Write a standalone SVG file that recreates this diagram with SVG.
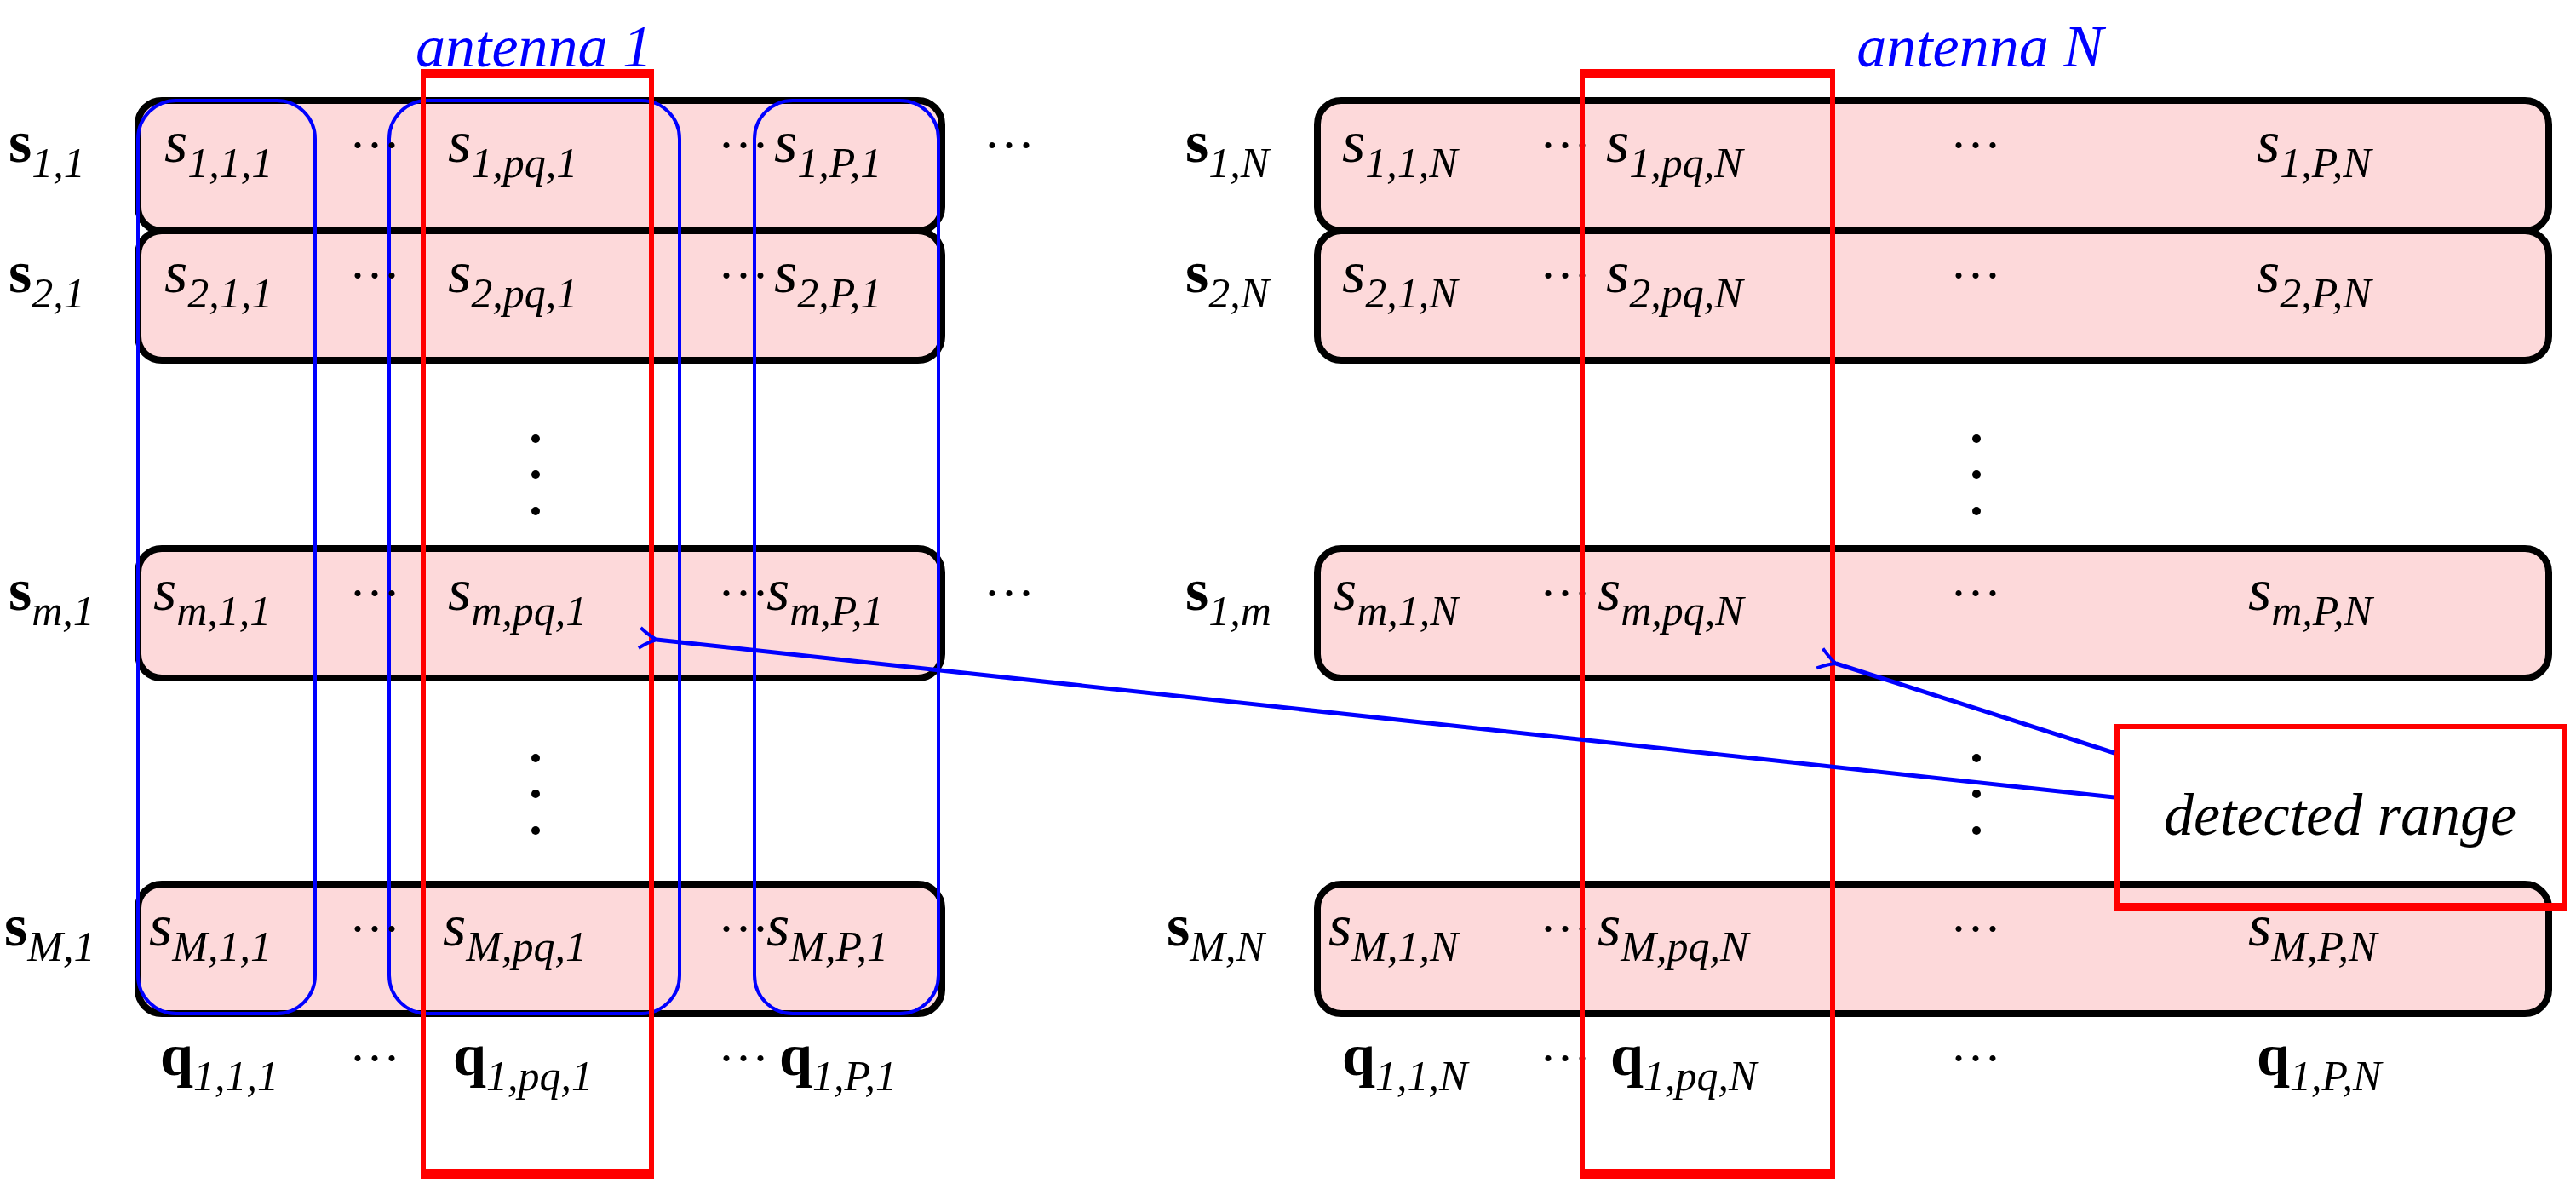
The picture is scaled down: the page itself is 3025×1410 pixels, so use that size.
<svg xmlns="http://www.w3.org/2000/svg" width="3025" height="1410" viewBox="0 0 3025 1410">
<defs>
<style>
.row{fill:#fdd9da;stroke:#000;stroke-width:8}
.col{fill:none;stroke:#0000ff;stroke-width:4}
.red{fill:none;stroke:#ff0000;stroke-width:6}
.t{font-family:"Liberation Serif",serif;font-style:italic;font-size:70px;fill:#000}
.b{font-family:"Liberation Serif",serif;font-weight:bold;font-size:70px;fill:#000}
.sub{font-size:50px;font-style:italic;font-weight:normal}
.d{font-family:"Liberation Serif",serif;font-size:60px;fill:#000}
.lab{font-family:"Liberation Serif",serif;font-style:italic;font-size:70px;fill:#0000ff}
.arr{fill:none;stroke:#0000ff;stroke-width:5}
</style>
<marker id="ah" markerWidth="30" markerHeight="30" refX="2" refY="15" orient="auto" markerUnits="userSpaceOnUse">
<path d="M22,3 Q10,12 2,15 Q10,18 22,27" fill="none" stroke="#0000ff" stroke-width="4"/>
</marker>
</defs>
<g id="rows-left">
<rect class="row" x="162" y="118" width="944" height="153" rx="28"/>
<rect class="row" x="162" y="271" width="944" height="152" rx="28"/>
<rect class="row" x="162" y="644" width="944" height="152" rx="28"/>
<rect class="row" x="162" y="1038" width="944" height="152" rx="28"/>
</g>
<g id="rows-right">
<rect class="row" x="1547" y="118" width="1446" height="153" rx="28"/>
<rect class="row" x="1547" y="271" width="1446" height="152" rx="28"/>
<rect class="row" x="1547" y="644" width="1446" height="152" rx="28"/>
<rect class="row" x="1547" y="1038" width="1446" height="152" rx="28"/>
</g>
<g id="columns">
<rect class="col" x="162" y="118" width="208" height="1072" rx="45"/>
<rect class="col" x="457" y="118" width="341" height="1072" rx="45"/>
<rect class="col" x="886" y="118" width="216" height="1072" rx="45"/>
</g>
<g id="texts">
<text class="b" x="10" y="190">s<tspan class="sub" dy="18" font-style="normal">1,1</tspan></text>
<text class="b" x="10" y="343">s<tspan class="sub" dy="18" font-style="normal">2,1</tspan></text>
<text class="b" x="10" y="716">s<tspan class="sub" dy="18">m</tspan><tspan class="sub" font-style="normal">,1</tspan></text>
<text class="b" x="5" y="1110">s<tspan class="sub" dy="18">M</tspan><tspan class="sub" font-style="normal">,1</tspan></text>
<text class="b" x="1392" y="190">s<tspan class="sub" dy="18" font-style="normal">1,</tspan><tspan class="sub">N</tspan></text>
<text class="b" x="1392" y="343">s<tspan class="sub" dy="18" font-style="normal">2,</tspan><tspan class="sub">N</tspan></text>
<text class="b" x="1392" y="716">s<tspan class="sub" dy="18" font-style="normal">1,</tspan><tspan class="sub">m</tspan></text>
<text class="b" x="1370" y="1110">s<tspan class="sub" dy="18">M,N</tspan></text>

<text class="t" x="193" y="190">s<tspan class="sub" dy="18">1,1,1</tspan></text>
<text class="t" x="526" y="190">s<tspan class="sub" dy="18">1,pq,1</tspan></text>
<text class="t" x="909" y="190">s<tspan class="sub" dy="18">1,P,1</tspan></text>
<text class="t" x="193" y="343">s<tspan class="sub" dy="18">2,1,1</tspan></text>
<text class="t" x="526" y="343">s<tspan class="sub" dy="18">2,pq,1</tspan></text>
<text class="t" x="909" y="343">s<tspan class="sub" dy="18">2,P,1</tspan></text>
<text class="t" x="180" y="716">s<tspan class="sub" dy="18">m,1,1</tspan></text>
<text class="t" x="526" y="716">s<tspan class="sub" dy="18">m,pq,1</tspan></text>
<text class="t" x="900" y="716">s<tspan class="sub" dy="18">m,P,1</tspan></text>
<text class="t" x="175" y="1110">s<tspan class="sub" dy="18">M,1,1</tspan></text>
<text class="t" x="520" y="1110">s<tspan class="sub" dy="18">M,pq,1</tspan></text>
<text class="t" x="900" y="1110">s<tspan class="sub" dy="18">M,P,1</tspan></text>

<text class="t" x="1576" y="190">s<tspan class="sub" dy="18">1,1,N</tspan></text>
<text class="t" x="1886" y="190">s<tspan class="sub" dy="18">1,pq,N</tspan></text>
<text class="t" x="2650" y="190">s<tspan class="sub" dy="18">1,P,N</tspan></text>
<text class="t" x="1576" y="343">s<tspan class="sub" dy="18">2,1,N</tspan></text>
<text class="t" x="1886" y="343">s<tspan class="sub" dy="18">2,pq,N</tspan></text>
<text class="t" x="2650" y="343">s<tspan class="sub" dy="18">2,P,N</tspan></text>
<text class="t" x="1566" y="716">s<tspan class="sub" dy="18">m,1,N</tspan></text>
<text class="t" x="1876" y="716">s<tspan class="sub" dy="18">m,pq,N</tspan></text>
<text class="t" x="2640" y="716">s<tspan class="sub" dy="18">m,P,N</tspan></text>
<text class="t" x="1560" y="1110">s<tspan class="sub" dy="18">M,1,N</tspan></text>
<text class="t" x="1876" y="1110">s<tspan class="sub" dy="18">M,pq,N</tspan></text>
<text class="t" x="2640" y="1110">s<tspan class="sub" dy="18">M,P,N</tspan></text>

<text class="b" x="188" y="1262">q<tspan class="sub" dy="18" font-style="normal" font-weight="bold">1,1,1</tspan></text>
<text class="b" x="532" y="1262">q<tspan class="sub" dy="18" font-style="normal" font-weight="bold">1,</tspan><tspan class="sub">pq</tspan><tspan class="sub" font-style="normal" font-weight="bold">,1</tspan></text>
<text class="b" x="915" y="1262">q<tspan class="sub" dy="18" font-style="normal" font-weight="bold">1,</tspan><tspan class="sub">P</tspan><tspan class="sub" font-style="normal" font-weight="bold">,1</tspan></text>
<text class="b" x="1576" y="1262">q<tspan class="sub" dy="18" font-style="normal" font-weight="bold">1,1,</tspan><tspan class="sub">N</tspan></text>
<text class="b" x="1891" y="1262">q<tspan class="sub" dy="18" font-style="normal" font-weight="bold">1,</tspan><tspan class="sub">pq</tspan><tspan class="sub" font-style="normal" font-weight="bold">,</tspan><tspan class="sub">N</tspan></text>
<text class="b" x="2650" y="1262">q<tspan class="sub" dy="18" font-style="normal" font-weight="bold">1,</tspan><tspan class="sub">P</tspan><tspan class="sub" font-style="normal" font-weight="bold">,</tspan><tspan class="sub">N</tspan></text>
</g>
<g id="dots" class="d">
<text x="410" y="190">···</text><text x="843" y="190">···</text><text x="1155" y="190">···</text>
<text x="410" y="343">···</text><text x="843" y="343">···</text>
<text x="410" y="716">···</text><text x="843" y="716">···</text><text x="1155" y="716">···</text>
<text x="410" y="1110">···</text><text x="843" y="1110">···</text>
<text x="410" y="1262">···</text><text x="843" y="1262">···</text>
<text x="1808" y="190">···</text><text x="2290" y="190">···</text>
<text x="1808" y="343">···</text><text x="2290" y="343">···</text>
<text x="1808" y="716">···</text><text x="2290" y="716">···</text>
<text x="1808" y="1110">···</text><text x="2290" y="1110">···</text>
<text x="1808" y="1262">···</text><text x="2290" y="1262">···</text>
</g>
<g id="vdots" fill="#000">
<circle cx="629" cy="515" r="5"/><circle cx="629" cy="557" r="5"/><circle cx="629" cy="600" r="5"/>
<circle cx="629" cy="890" r="5"/><circle cx="629" cy="932" r="5"/><circle cx="629" cy="975" r="5"/>
<circle cx="2321" cy="515" r="5"/><circle cx="2321" cy="557" r="5"/><circle cx="2321" cy="600" r="5"/>
<circle cx="2321" cy="890" r="5"/><circle cx="2321" cy="932" r="5"/><circle cx="2321" cy="975" r="5"/>
</g>
<g id="antenna1">
<rect class="red" x="497" y="85" width="268" height="1296"/>
<line x1="494" y1="86" x2="768" y2="86" stroke="#ff0000" stroke-width="10"/>
<line x1="494" y1="1378" x2="768" y2="1378" stroke="#ff0000" stroke-width="10"/>
<text class="lab" x="627" y="78" text-anchor="middle">antenna 1</text>
</g>
<g id="antennaN">
<rect class="red" x="1858" y="85" width="294" height="1296"/>
<line x1="1855" y1="86" x2="2155" y2="86" stroke="#ff0000" stroke-width="10"/>
<line x1="1855" y1="1378" x2="2155" y2="1378" stroke="#ff0000" stroke-width="10"/>
<text class="lab" x="2325" y="78" text-anchor="middle">antenna N</text>
</g>
<g id="detected">
<rect class="red" x="2486" y="853" width="525" height="214"/>
<line x1="2483" y1="1065" x2="3013" y2="1065" stroke="#ff0000" stroke-width="10"/>
<text class="t" x="2748" y="980" text-anchor="middle">detected range</text>
</g>
<g id="connectors">
<line class="arr" x1="2483" y1="936" x2="771" y2="751" marker-end="url(#ah)"/>
<line class="arr" x1="2483" y1="884" x2="2156" y2="779" marker-end="url(#ah)"/>
</g>
</svg>
